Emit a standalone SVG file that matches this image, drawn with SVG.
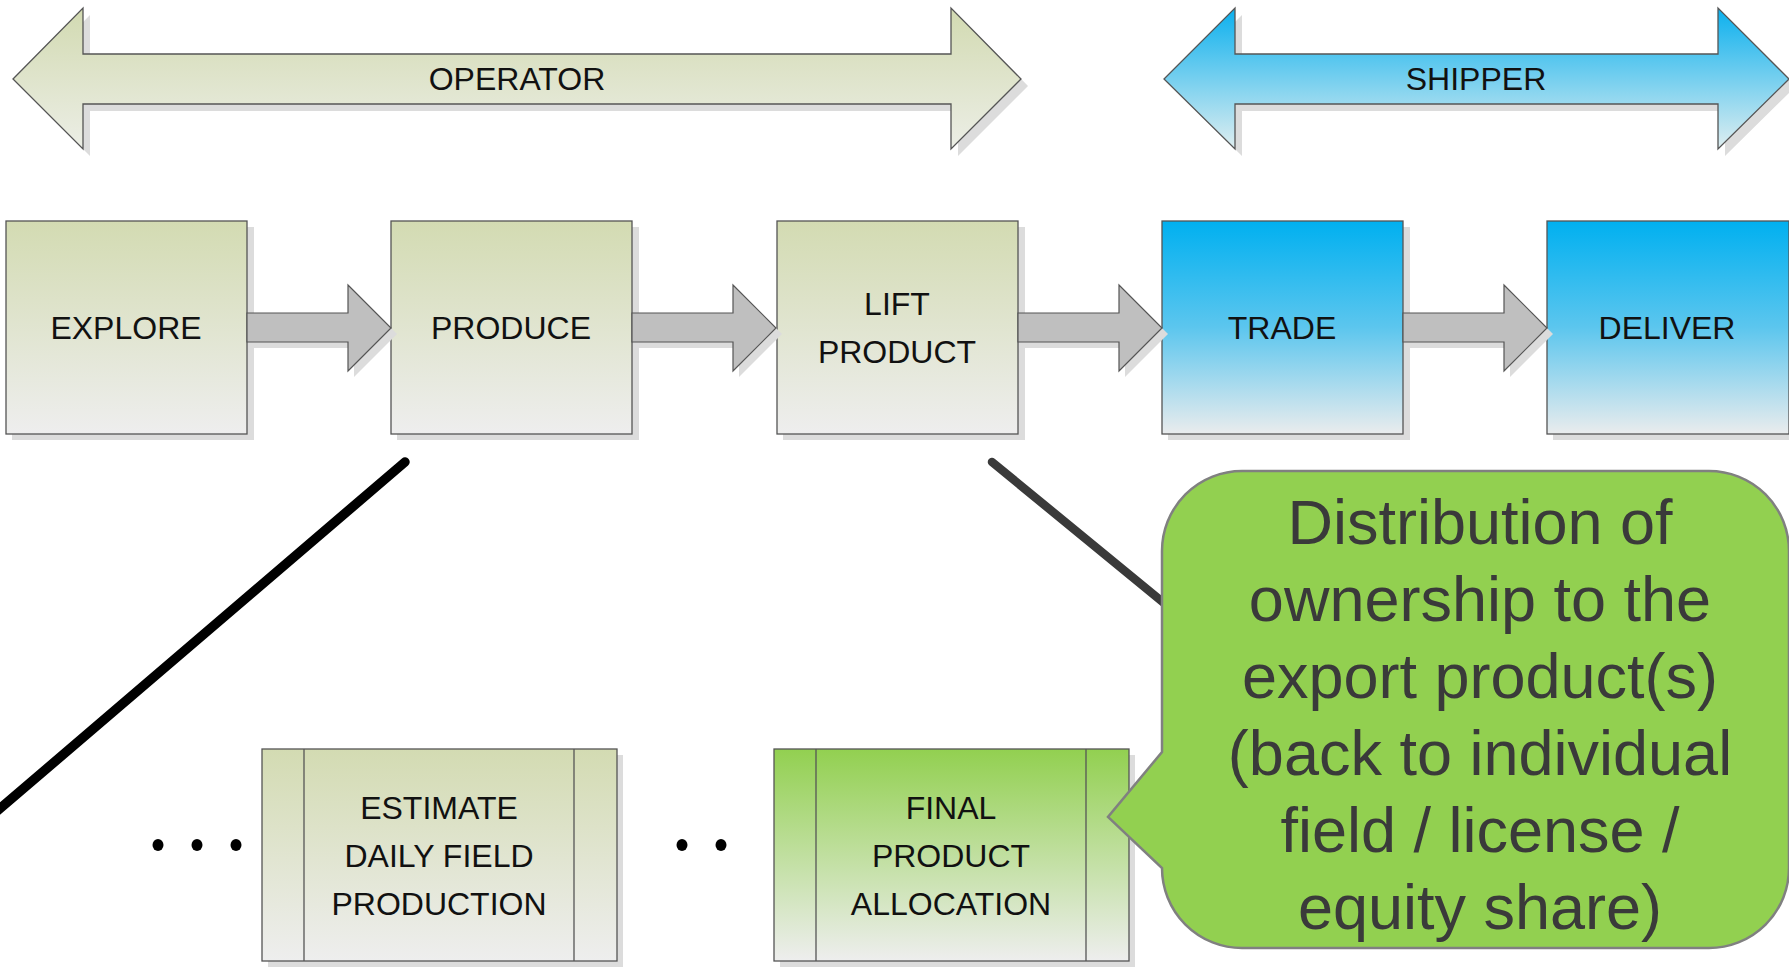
<svg xmlns="http://www.w3.org/2000/svg" width="1789" height="967" viewBox="0 0 1789 967">
<defs>
<linearGradient id="gOlive" x1="0" y1="0" x2="0" y2="1"><stop offset="0" stop-color="#d3dbb2"/><stop offset="1" stop-color="#eeeeee"/></linearGradient>
<linearGradient id="gOliveArrow" x1="0" y1="0" x2="0" y2="1"><stop offset="0" stop-color="#d2dab1"/><stop offset="1" stop-color="#eceee6"/></linearGradient>
<linearGradient id="gBlue" x1="0" y1="0" x2="0" y2="1"><stop offset="0" stop-color="#00b0f0"/><stop offset="0.5" stop-color="#5cc6ee"/><stop offset="1" stop-color="#eaeced"/></linearGradient>
<linearGradient id="gBlueArrow" x1="0" y1="0" x2="0" y2="1"><stop offset="0" stop-color="#0bb0ee"/><stop offset="1" stop-color="#dfeef0"/></linearGradient>
<linearGradient id="gGreen" x1="0" y1="0" x2="0" y2="1"><stop offset="0" stop-color="#92d050"/><stop offset="1" stop-color="#eeeeee"/></linearGradient>
<path id="conn" d="M0,313 H101 V285 L144,328 L101,371 V342 H0 Z"/>
</defs>
<style>
.box{stroke:#555;stroke-width:1.3}
.shadow{fill:#dcdcdc}
.lbl{font-family:"Liberation Sans",Arial,sans-serif;font-size:32px;fill:#111;text-anchor:middle}
.call{font-family:"Liberation Sans",Arial,sans-serif;font-size:63px;fill:#3a3a3a;text-anchor:middle}
.conn{fill:#bfbfbf;stroke:#555;stroke-width:1.2}
.bar{stroke:#555;stroke-width:1.3;fill:none}
</style>
<rect width="1789" height="967" fill="#ffffff"/>

<g id="operator">
<polygon class="shadow" transform="translate(7,7)" points="13,79 83,8 83,54 951,54 951,8 1021,79 951,149 951,104 83,104 83,149"/>
<polygon class="box" fill="url(#gOliveArrow)" points="13,79 83,8 83,54 951,54 951,8 1021,79 951,149 951,104 83,104 83,149"/>
<text class="lbl" x="517" y="90">OPERATOR</text>
</g>
<g id="shipper">
<polygon class="shadow" transform="translate(7,7)" points="1164,79 1235,8 1235,54 1718,54 1718,8 1789,79 1718,149 1718,104 1235,104 1235,149"/>
<polygon class="box" fill="url(#gBlueArrow)" points="1164,79 1235,8 1235,54 1718,54 1718,8 1789,79 1718,149 1718,104 1235,104 1235,149"/>
<text class="lbl" x="1476" y="90">SHIPPER</text>
</g>

<g id="explore">
<rect class="shadow" x="12" y="227" width="242" height="213"/>
<rect class="box" fill="url(#gOlive)" x="6" y="221" width="241" height="213"/>
<text class="lbl" x="126" y="339">EXPLORE</text>
</g>
<g id="produce">
<rect class="shadow" x="397" y="227" width="242" height="213"/>
<rect class="box" fill="url(#gOlive)" x="391" y="221" width="241" height="213"/>
<text class="lbl" x="511" y="339">PRODUCE</text>
</g>
<g id="lift-product">
<rect class="shadow" x="783" y="227" width="242" height="213"/>
<rect class="box" fill="url(#gOlive)" x="777" y="221" width="241" height="213"/>
<text class="lbl" x="897" y="315">LIFT</text>
<text class="lbl" x="897" y="363">PRODUCT</text>
</g>
<g id="trade">
<rect class="shadow" x="1168" y="227" width="242" height="213"/>
<rect class="box" fill="url(#gBlue)" x="1162" y="221" width="241" height="213"/>
<text class="lbl" x="1282" y="339">TRADE</text>
</g>
<g id="deliver">
<rect class="shadow" x="1553" y="227" width="242" height="213"/>
<rect class="box" fill="url(#gBlue)" x="1547" y="221" width="242" height="213"/>
<text class="lbl" x="1667" y="339">DELIVER</text>
</g>

<g id="connectors">
<use href="#conn" class="shadow" transform="translate(253,6)"/>
<use href="#conn" class="conn" transform="translate(247,0)"/>
<use href="#conn" class="shadow" transform="translate(638,6)"/>
<use href="#conn" class="conn" transform="translate(632,0)"/>
<use href="#conn" class="shadow" transform="translate(1024,6)"/>
<use href="#conn" class="conn" transform="translate(1018,0)"/>
<use href="#conn" class="shadow" transform="translate(1409,6)"/>
<use href="#conn" class="conn" transform="translate(1403,0)"/>
<line x1="405" y1="462" x2="-4" y2="812" stroke="#000" stroke-width="9.5" stroke-linecap="round"/>
<line x1="992" y1="462" x2="1170" y2="608" stroke="#3a3a3a" stroke-width="8.5" stroke-linecap="round"/>
</g>

<g id="dots">
<ellipse cx="158" cy="845" rx="5.5" ry="6" fill="#000"/>
<ellipse cx="197" cy="845" rx="5.5" ry="6" fill="#000"/>
<ellipse cx="236" cy="845" rx="5.5" ry="6" fill="#000"/>
<ellipse cx="682" cy="845" rx="5.5" ry="6" fill="#000"/>
<ellipse cx="721" cy="845" rx="5.5" ry="6" fill="#000"/>
</g>

<g id="estimate">
<rect class="shadow" x="268" y="755" width="355" height="212"/>
<rect class="box" fill="url(#gOlive)" x="262" y="749" width="355" height="212"/>
<line class="bar" x1="304" y1="749" x2="304" y2="961"/>
<line class="bar" x1="574" y1="749" x2="574" y2="961"/>
<text class="lbl" x="439" y="819">ESTIMATE</text>
<text class="lbl" x="439" y="867">DAILY FIELD</text>
<text class="lbl" x="439" y="915">PRODUCTION</text>
</g>
<g id="final-allocation">
<rect class="shadow" x="780" y="755" width="355" height="212"/>
<rect class="box" fill="url(#gGreen)" x="774" y="749" width="355" height="212"/>
<line class="bar" x1="816" y1="749" x2="816" y2="961"/>
<line class="bar" x1="1086" y1="749" x2="1086" y2="961"/>
<text class="lbl" x="951" y="819">FINAL</text>
<text class="lbl" x="951" y="867">PRODUCT</text>
<text class="lbl" x="951" y="915">ALLOCATION</text>
</g>

<g id="callout">
<path d="M1242,471 H1709 A80,80 0 0 1 1789,551 V868 A80,80 0 0 1 1709,948 H1242 A80,80 0 0 1 1162,868 L1108,817 L1162,752 V551 A80,80 0 0 1 1242,471 Z" fill="#92d050" stroke="#808080" stroke-width="2.5"/>
<text class="call" x="1480" y="544">Distribution of</text>
<text class="call" x="1480" y="621">ownership to the</text>
<text class="call" x="1480" y="698">export product(s)</text>
<text class="call" x="1480" y="775">(back to individual</text>
<text class="call" x="1480" y="852">field / license /</text>
<text class="call" x="1480" y="929">equity share)</text>
</g>
</svg>
